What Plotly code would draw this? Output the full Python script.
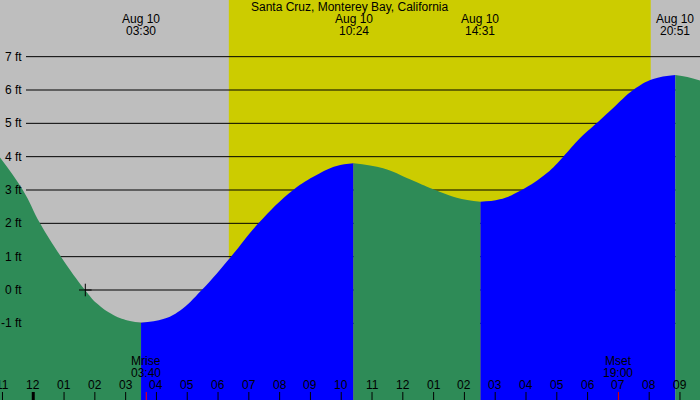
import plotly.graph_objects as go

# tide curve: hours since midnight Aug 10, height in ft
tide_hours = [-1.1, -0.34, 0.22, 0.9, 1.68, 2.06, 2.6, 3.14, 3.5, 4.22, 4.76, 5.47,
              6.42, 7.31, 8.44, 9.2, 9.85, 10.4, 11.36, 12.23, 12.99, 13.75, 14.52,
              15.15, 15.86, 16.67, 17.21, 17.75, 18.29, 18.83, 19.48, 20.13, 20.85,
              21.24, 21.7]
tide_feet = [4.0, 3.0, 2.0, 1.0, 0.0, -0.40, -0.75, -0.93, -0.98, -0.87, -0.62, 0.0,
             1.0, 2.0, 3.0, 3.45, 3.72, 3.8, 3.65, 3.32, 3.02, 2.77, 2.65,
             2.72, 3.0, 3.5, 4.0, 4.55, 5.0, 5.46, 6.0, 6.33, 6.45,
             6.39, 6.27]

# high / low tide times shown at the top
extreme_hours = [3.5, 10.4, 14.52, 20.85]
extreme_labels = ["03:30", "10:24", "14:31", "20:51"]

sunrise, sunset = 6.35, 20.05
moon_hours = [3.67, 19.0]
moon_names = ["Mrise", "Mset"]
moon_labels = ["03:40", "19:00"]

hour_ticks = list(range(-1, 22))
hour_labels = ["11", "12", "01", "02", "03", "04", "05", "06", "07", "08", "09", "10",
               "11", "12", "01", "02", "03", "04", "05", "06", "07", "08", "09"]
feet_levels = [-1, 0, 1, 2, 3, 4, 5, 6, 7]
now_mark = (1.69, 0)

X_RANGE = [-1.08, 21.65]
Y_RANGE = [-3.3, 8.7]
FONT = "Liberation Sans"

fig = go.Figure()

# split curve at highs/lows, green when falling, blue when rising
cuts = [0] + [tide_hours.index(h) for h in extreme_hours] + [len(tide_hours) - 1]
for a, b in zip(cuts[:-1], cuts[1:]):
    xs = tide_hours[a:b + 1]
    ys = tide_feet[a:b + 1]
    color = "#0000ff" if ys[-1] > ys[0] else "#2e8b57"
    fig.add_trace(go.Scatter(x=[xs[0], xs[-1]], y=[Y_RANGE[0], Y_RANGE[0]], mode="lines",
                             line=dict(width=0), hoverinfo="skip", showlegend=False))
    fig.add_trace(go.Scatter(x=xs, y=ys, mode="lines",
                             line=dict(width=0, shape="spline", smoothing=1.2, color=color),
                             fill="tonexty", fillcolor=color, hoverinfo="skip", showlegend=False))

fig.add_trace(go.Scatter(x=[now_mark[0]], y=[now_mark[1]], mode="markers",
                         marker=dict(symbol="cross-thin", size=9, line=dict(color="black", width=1)),
                         hoverinfo="skip", showlegend=False))

shapes = [dict(type="rect", xref="x", yref="paper", x0=sunrise, x1=sunset, y0=0, y1=1,
               fillcolor="#cccc00", line=dict(width=0), layer="below")]
for f in feet_levels:
    shapes.append(dict(type="line", xref="paper", yref="y", x0=26 / 700, x1=1, y0=f, y1=f,
                       line=dict(color="black", width=1), layer="below"))
for h in hour_ticks:
    shapes.append(dict(type="line", xref="x", yref="paper", x0=h, x1=h, y0=0, y1=0.02,
                       line=dict(color="black", width=3 if h == 0 else 1)))
for h in moon_hours:
    shapes.append(dict(type="line", xref="x", yref="paper", x0=h, x1=h, y0=0, y1=0.02,
                       line=dict(color="red", width=1)))

annotations = [dict(text="Santa Cruz, Monterey Bay, California", xref="paper", yref="paper",
                    x=0.5, y=1 - 7 / 400, showarrow=False, yanchor="middle")]
for h, lab in zip(extreme_hours, extreme_labels):
    annotations.append(dict(text="Aug 10", xref="x", yref="paper", x=h, y=1 - 19 / 400,
                            showarrow=False, yanchor="middle"))
    annotations.append(dict(text=lab, xref="x", yref="paper", x=h, y=1 - 31 / 400,
                            showarrow=False, yanchor="middle"))
for f in feet_levels:
    annotations.append(dict(text=f"{f} ft", xref="paper", yref="y", x=24 / 700, y=f,
                            xanchor="right", showarrow=False, yanchor="middle"))
for h, lab in zip(hour_ticks, hour_labels):
    annotations.append(dict(text=lab, xref="x", yref="paper", x=h, y=1 - 385 / 400,
                            showarrow=False, yanchor="middle"))
for h, name, lab in zip(moon_hours, moon_names, moon_labels):
    annotations.append(dict(text=name, xref="x", yref="paper", x=h, y=1 - 361 / 400,
                            showarrow=False, yanchor="middle"))
    annotations.append(dict(text=lab, xref="x", yref="paper", x=h, y=1 - 373 / 400,
                            showarrow=False, yanchor="middle"))

fig.update_layout(
    width=700, height=400,
    margin=dict(l=0, r=0, t=0, b=0),
    paper_bgcolor="#bebebe", plot_bgcolor="#bebebe",
    xaxis=dict(range=X_RANGE, visible=False, fixedrange=True),
    yaxis=dict(range=Y_RANGE, visible=False, fixedrange=True),
    font=dict(family=FONT, size=12, color="black"),
    shapes=shapes, annotations=annotations,
    showlegend=False,
)

fig.write_html("out.html", config={"displayModeBar": False},
               post_script="document.body.style.margin='0';")
